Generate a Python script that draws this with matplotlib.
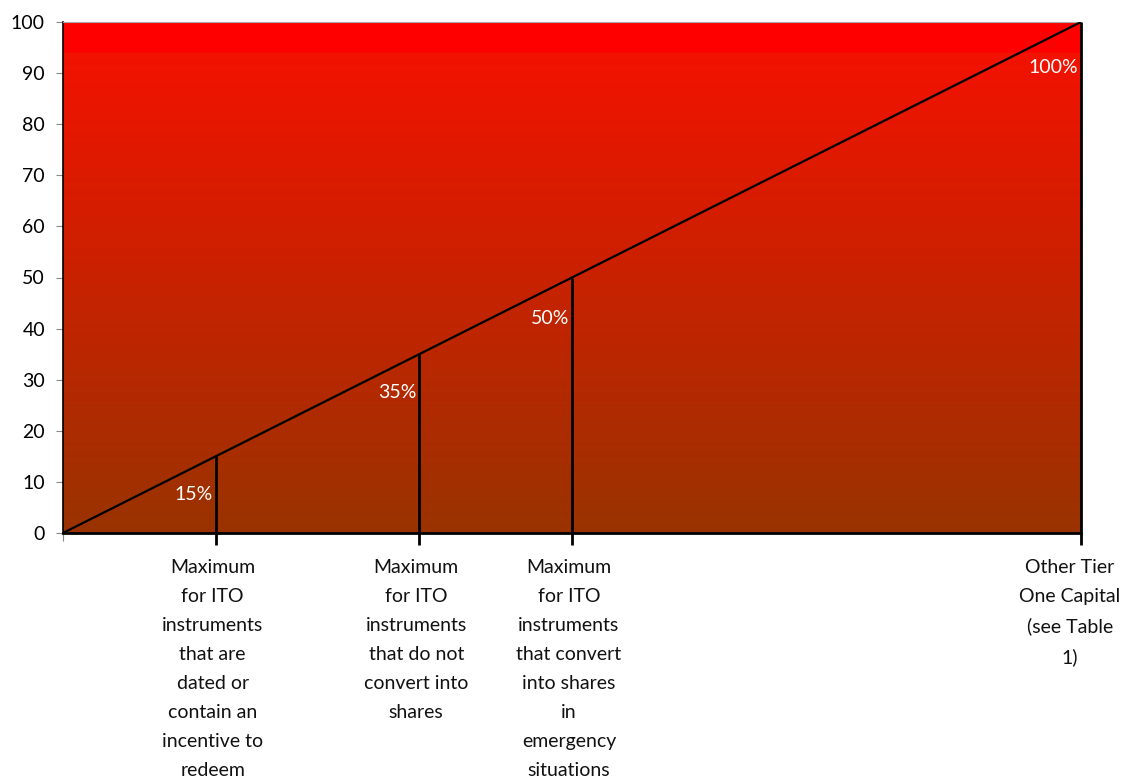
import numpy as np
import matplotlib
matplotlib.use("agg")
import matplotlib.pyplot as plt
import matplotlib.transforms as mtransforms

plt.rcParams["font.family"] = ["Lato", "DejaVu Sans"]

# data
limits = [15, 35, 50, 100]
pct_labels = ["15%", "35%", "50%", "100%"]
pct_label_y = [7.5, 27.5, 42, 91]
categories = [
    "Maximum\nfor ITO\ninstruments\nthat are\ndated or\ncontain an\nincentive to\nredeem",
    "Maximum\nfor ITO\ninstruments\nthat do not\nconvert into\nshares",
    "Maximum\nfor ITO\ninstruments\nthat convert\ninto shares\nin\nemergency\nsituations",
    "Other Tier\nOne Capital\n(see Table\n1)",
]
line_x = [0, 15, 35, 50, 100]
line_y = [0, 15, 35, 50, 100]

fig = plt.figure(figsize=(11.26, 7.84), dpi=100)
ax = fig.add_axes([63 / 1126, 1 - 533 / 784, (1081 - 63) / 1126, (533 - 22) / 784])

# background gradient: solid red band on top, red -> brown below
top_col = np.array([0.973, 0.063, 0.0])
bot_col = np.array([0.60, 0.20, 0.0])
n = 400
t = np.linspace(0, 1, n)[:, None]
grad = bot_col * (1 - t) + top_col * t
yy = np.linspace(0, 100, n)
grad[yy > 94] = [1.0, 0.0, 0.0]
ax.imshow(grad[::-1][:, None, :].repeat(2, axis=1), extent=[0, 100, 0, 100],
          aspect="auto", zorder=0, interpolation="bilinear")

ax.plot(line_x, line_y, color="black", lw=1.6, zorder=3)
ax.vlines(limits, -2.4, limits, color="black", lw=2, zorder=3, clip_on=False)

for x, lab, y in zip(limits, pct_labels, pct_label_y):
    ax.text(x - 0.3, y, lab, color="white", fontsize=14, ha="right", va="center", zorder=4)

trans = mtransforms.blended_transform_factory(ax.transData, ax.transAxes)
for x, lab in zip(limits, categories):
    ax.text(min(x - 0.3, 98.9), -0.05, lab, transform=trans, ha="center", va="top",
            fontsize=14, linespacing=1.86, color="#111111")

ax.set_xlim(0, 100)
ax.set_ylim(0, 100)
ax.set_yticks(range(0, 101, 10))
ax.set_xticks([0, 100])
ax.set_xticklabels(["", ""])
ax.tick_params(axis="y", labelsize=14, length=5, pad=8, color="#888888", direction="out")
ax.tick_params(axis="x", length=6, color="#888888", direction="out")
ax.spines["left"].set_color("black")
ax.spines["left"].set_linewidth(1.2)
ax.spines["bottom"].set_color("black")
ax.spines["bottom"].set_linewidth(2)
ax.spines["bottom"].set_zorder(5)
ax.spines["top"].set_color("#aaaaaa")
ax.spines["right"].set_visible(False)

fig.savefig("out.png", dpi=100)
